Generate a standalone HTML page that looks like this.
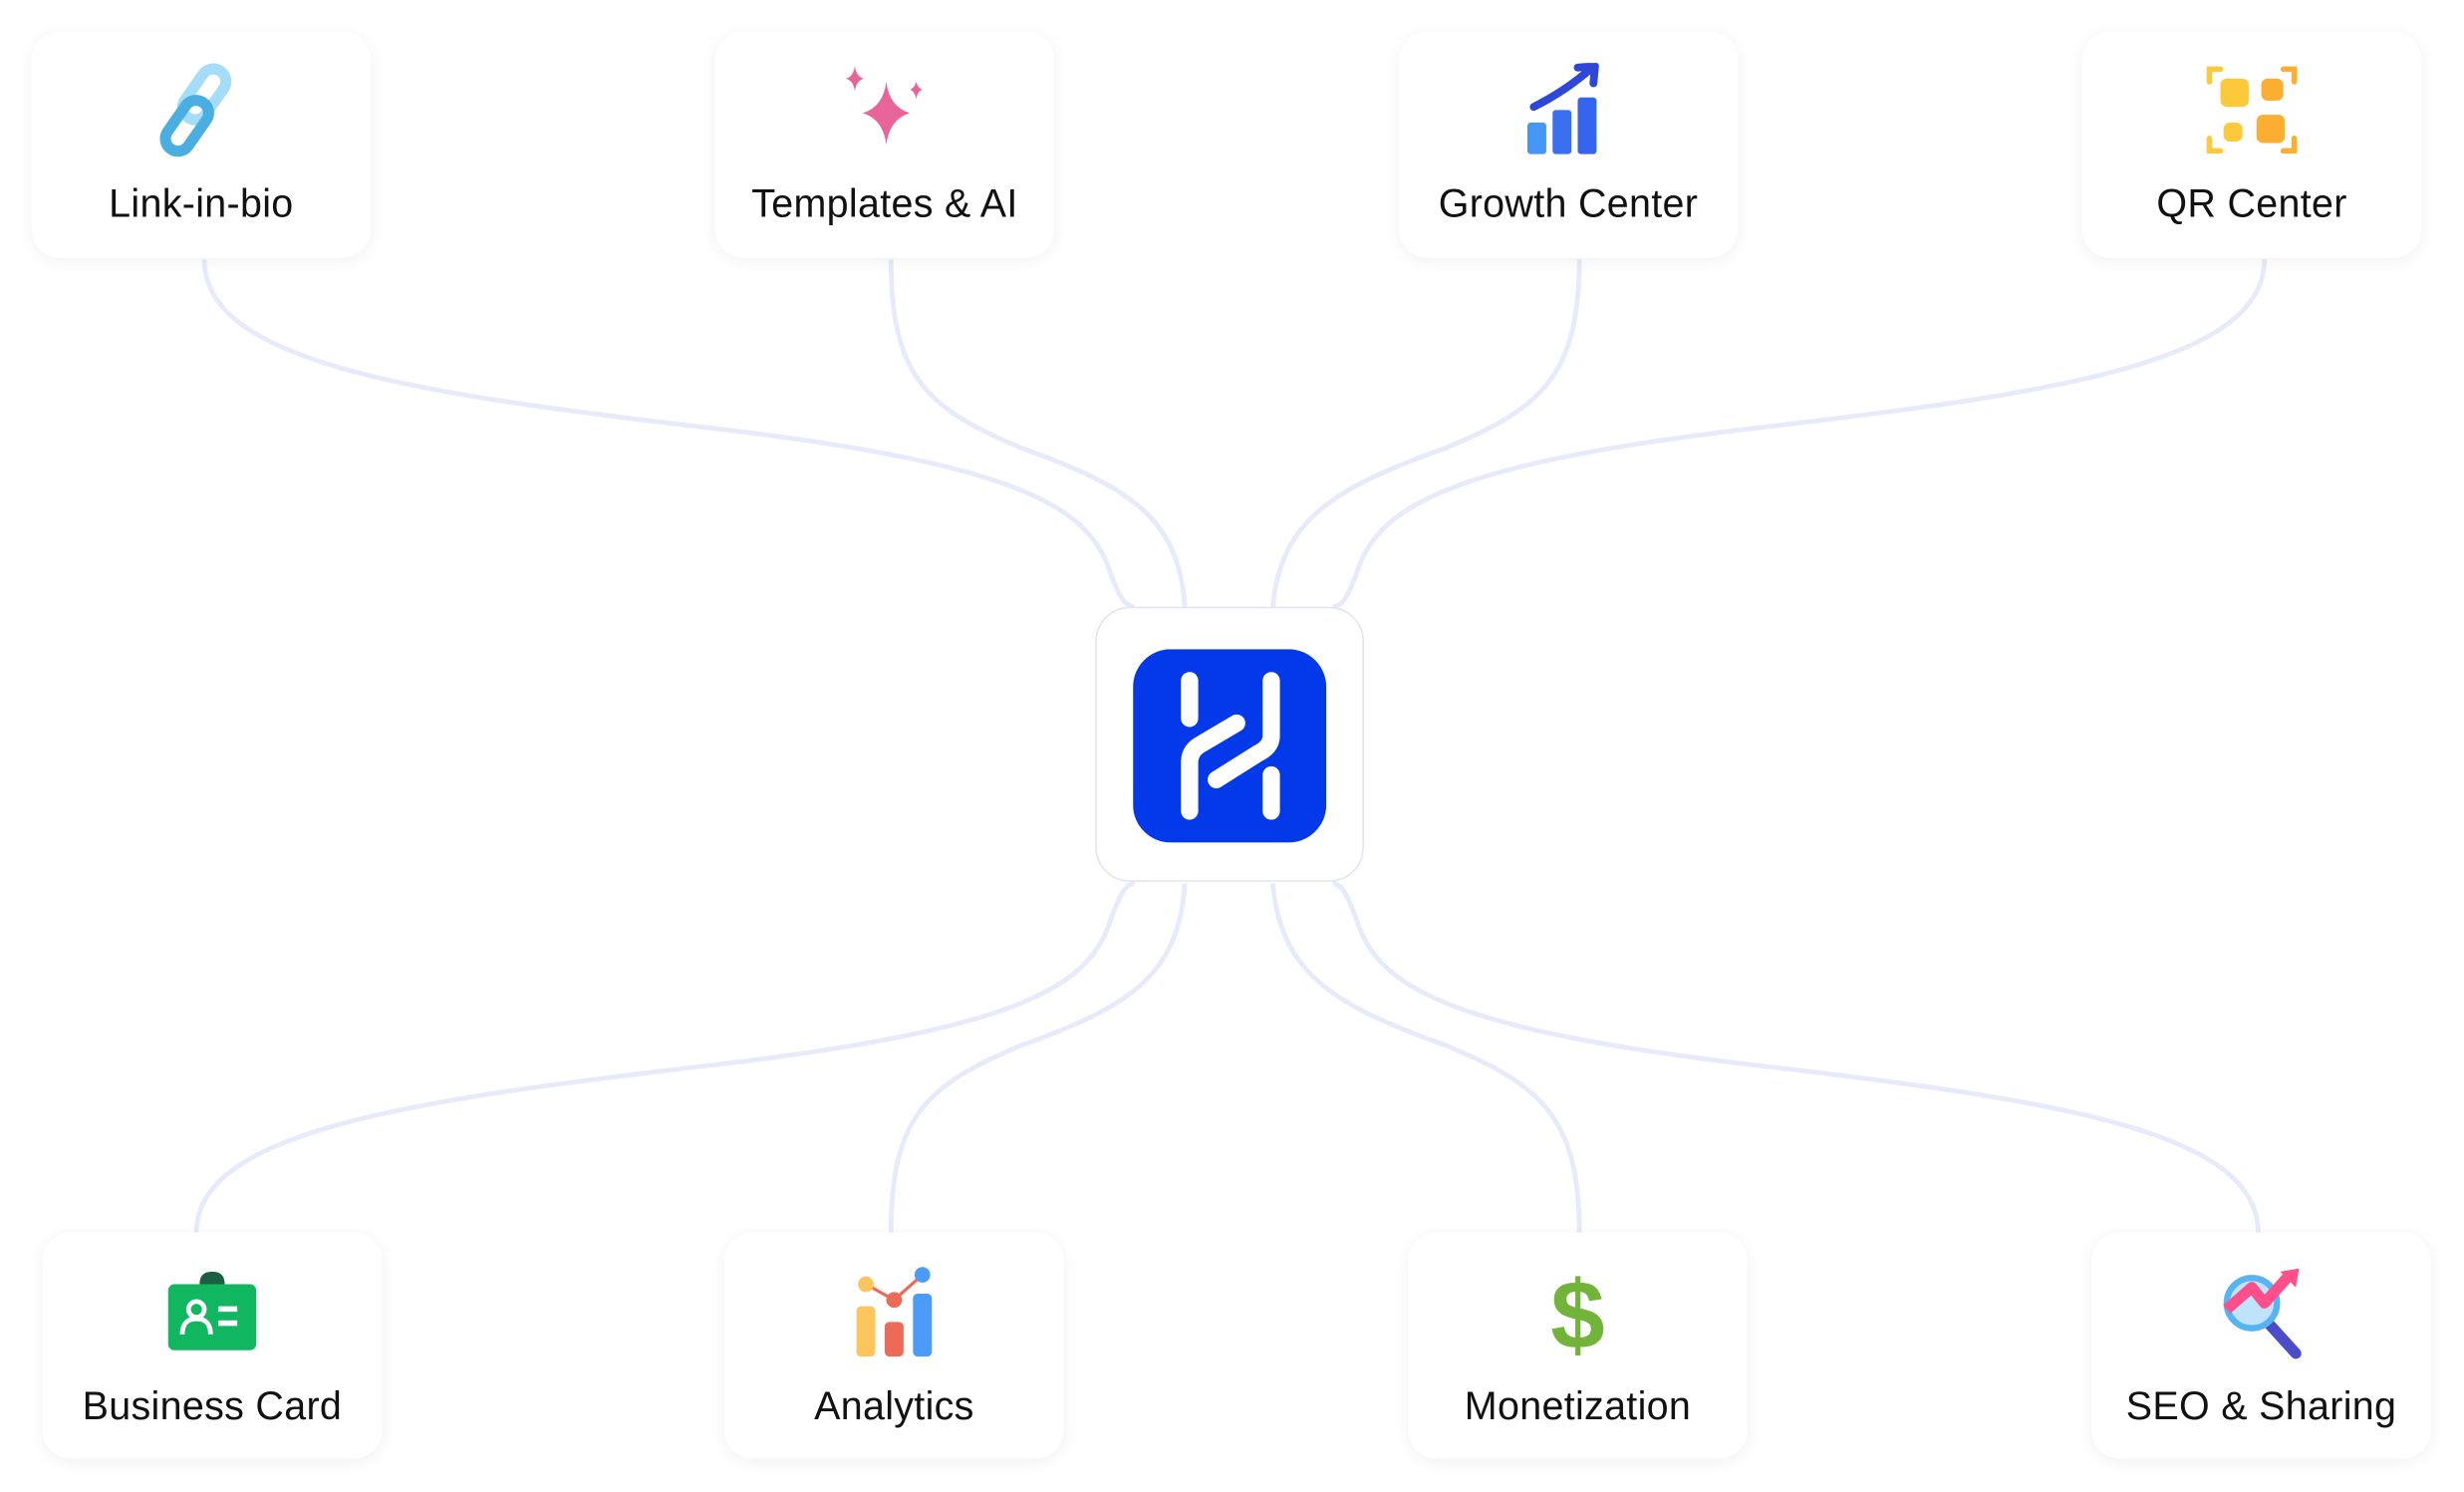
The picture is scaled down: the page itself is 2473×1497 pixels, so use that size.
<!DOCTYPE html>
<html><head><meta charset="utf-8"><style>
html,body{margin:0;padding:0;background:#fff;overflow:hidden}
#wrap{position:absolute;left:0;top:0;width:1568px;height:948.6px;transform:scale(1.57717);transform-origin:0 0;font-family:"Liberation Sans",sans-serif}
.card{position:absolute;width:216px;height:144px;background:#fff;border-radius:18px;box-shadow:0 2px 10px rgba(0,0,0,0.06);}
.card .lbl{position:absolute;left:0;right:0;text-align:center;font-size:25px;color:#111;letter-spacing:0.2px}
.top .lbl{top:96px}.bot .lbl{top:97px}
.card svg{position:absolute;left:78px;width:60px;height:60px}
.top svg{top:20px}.bot svg{top:21px}
</style></head><body><div id="wrap">
<svg style="position:absolute;left:0;top:0" width="1568" height="949" fill="none" stroke="#e6eafb" stroke-width="3">
<path d="M130 165 C130 230 260 250 450 272 C640 294 690 320 705 360 C712 380 716 386 722 386"/>
<path d="M567 165 C567 240 590 260 650 285 C720 310 750 330 754 386"/>
<path d="M1005 165 C1005 240 980 260 920 285 C850 310 815 330 810 386"/>
<path d="M1441 165 C1441 230 1310 250 1120 272 C930 294 880 320 865 360 C858 380 854 386 848 386"/>
<path d="M125 784 C125 720 260 700 450 678 C640 656 690 630 705 590 C712 570 716 562 722 562"/>
<path d="M567 784 C567 710 590 690 650 665 C720 640 750 620 754 562"/>
<path d="M1005 784 C1005 710 980 690 920 665 C850 640 815 620 810 562"/>
<path d="M1437 784 C1437 720 1310 700 1120 678 C930 656 880 630 865 590 C858 570 854 562 848 562"/>
</svg>
<div style="position:absolute;left:697px;top:386px;width:171px;height:175px;border:1px solid #e2e4f6;border-radius:22px;background:#fff;box-sizing:border-box"></div>
<svg style="position:absolute;left:721px;top:413px" width="123" height="123" viewBox="0 0 123 123">
<rect width="123" height="123" rx="24" fill="#0339e8"/>
<g stroke="#fff" stroke-width="11" stroke-linecap="round" fill="none">
<line x1="36" y1="20" x2="36" y2="44"/>
<path d="M36 103 V72 Q36 64 44 60 L66 47"/>
<path d="M88 20 V55 Q88 62 80 66 L53 83"/>
<line x1="88" y1="80" x2="88" y2="103"/>
</g></svg>

<div class="card top" style="left:20px;top:20px">
<svg viewBox="0 0 60 60"><g fill="none" stroke-width="7" stroke-linecap="round"><rect x="24" y="2" width="16" height="36" rx="8" transform="rotate(35 32 20)" stroke="#a5dcf8"/><rect x="13" y="22" width="16" height="36" rx="8" transform="rotate(35 21 40)" stroke="#4aaee0"/></g></svg>
<div class="lbl">Link-in-bio</div></div>
<div class="card top" style="left:455px;top:20px">
<svg viewBox="0 0 60 60"><g fill="#e8659a"><path d="M31 12 Q33 28 46 32 Q33 36 31 52 Q29 36 16 32 Q29 28 31 12Z"/><path d="M11 2 Q12 9 17 10 Q12 11 11 18 Q10 11 5 10 Q10 9 11 2Z"/><path d="M50 12 Q51 16 54 17 Q51 18 50 23 Q49 18 46 17 Q49 16 50 12Z"/></g></svg>
<div class="lbl">Templates &amp; AI</div></div>
<div class="card top" style="left:890px;top:20px">
<svg viewBox="0 0 60 60"><rect x="4" y="38" width="12" height="20" rx="2" fill="#4596f7"/><rect x="20" y="30" width="12" height="28" rx="2" fill="#3a6ff0"/><rect x="36" y="22" width="12" height="36" rx="2" fill="#3565ee"/><path d="M8 28 Q28 18 44 4" stroke="#2e47d8" stroke-width="5" fill="none" stroke-linecap="round"/><path d="M36 3 L47 2 L46 13" stroke="#2e47d8" stroke-width="5" fill="none" stroke-linecap="round" stroke-linejoin="round"/></svg>
<div class="lbl">Growth Center</div></div>
<div class="card top" style="left:1325px;top:20px">
<svg viewBox="0 0 60 60"><g fill="none" stroke-width="3.5" stroke-linecap="round"><path d="M3 12 V4 H10" stroke="#fcc93a"/><path d="M50 4 H57 V12" stroke="#fbae30"/><path d="M3 48 V56 H10" stroke="#fcc93a"/><path d="M50 56 H57 V48" stroke="#fbae30"/></g><rect x="10" y="10" width="18" height="18" rx="4" fill="#fcc93a"/><rect x="36" y="10" width="14" height="14" rx="4" fill="#fbae30"/><rect x="12" y="38" width="12" height="12" rx="4" fill="#fcc93a"/><rect x="33" y="33" width="18" height="18" rx="4" fill="#fbae30"/></svg>
<div class="lbl">QR Center</div></div>

<div class="card bot" style="left:27px;top:784px">
<svg viewBox="0 0 60 60"><path d="M22 12 Q22 4 30 4 Q38 4 38 12Z" fill="#196040"/><rect x="2" y="12" width="56" height="42" rx="4" fill="#10b760"/><circle cx="20" cy="28" r="5" fill="none" stroke="#fff" stroke-width="3"/><path d="M11 44 Q11 34 20 34 Q29 34 29 44" fill="none" stroke="#fff" stroke-width="3"/><rect x="34" y="26" width="12" height="3.5" fill="#fff"/><rect x="34" y="35" width="12" height="3.5" fill="#fff"/></svg>
<div class="lbl">Business Card</div></div>
<div class="card bot" style="left:461px;top:784px">
<svg viewBox="0 0 60 60"><rect x="6" y="26" width="12" height="32" rx="3" fill="#fcc55e"/><rect x="24" y="36" width="12" height="22" rx="3" fill="#ec6a58"/><rect x="42" y="18" width="12" height="40" rx="3" fill="#4d9bf8"/><path d="M12 12 L30 22 L48 6" stroke="#ec6a58" stroke-width="2" fill="none"/><circle cx="12" cy="12" r="5" fill="#fcc55e"/><circle cx="30" cy="22" r="5" fill="#ec6a58"/><circle cx="48" cy="6" r="5" fill="#4d9bf8"/></svg>
<div class="lbl">Analytics</div></div>
<div class="card bot" style="left:896px;top:784px">
<svg viewBox="0 0 60 60"><text x="30" y="53" text-anchor="middle" font-family="Liberation Sans" font-weight="bold" font-size="62" fill="#72b43a">$</text></svg>
<div class="lbl">Monetization</div></div>
<div class="card bot" style="left:1331px;top:784px">
<svg viewBox="0 0 60 60"><line x1="32" y1="34" x2="52" y2="56" stroke="#4a4cc8" stroke-width="7" stroke-linecap="round"/><circle cx="24" cy="24" r="16" fill="#bfe3fb" stroke="#57b4f3" stroke-width="4"/><path d="M8 28 L24 14 L32 24 L48 6" stroke="#ff4f8b" stroke-width="7" fill="none" stroke-linejoin="round"/><path d="M42 4 L54 2 L52 14Z" fill="#ff4f8b"/></svg>
<div class="lbl">SEO &amp; Sharing</div></div>
</div></body></html>
